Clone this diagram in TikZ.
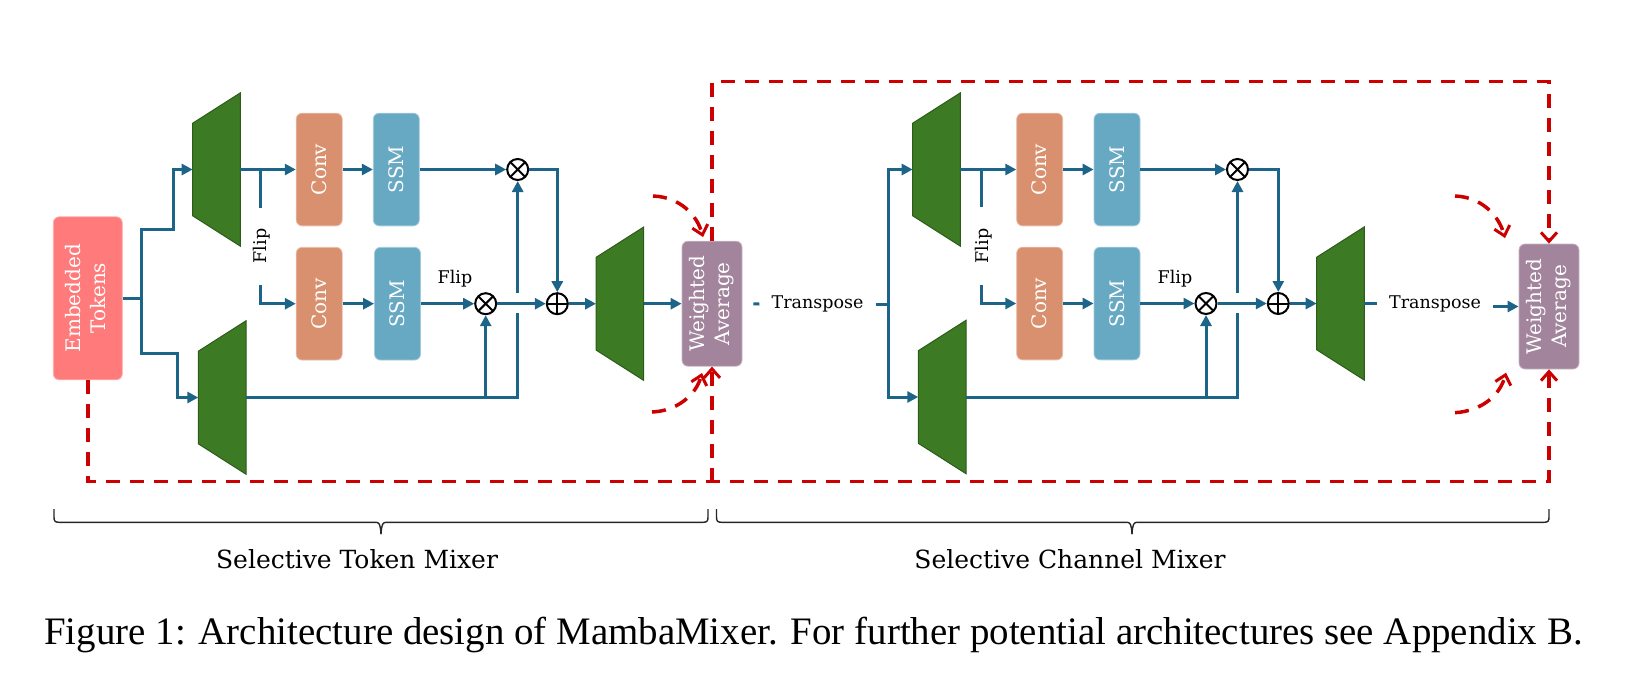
\documentclass[tikz,border=0pt]{standalone}
\usepackage{fontspec}
\setmainfont{DejaVu Serif}
\newfontfamily\capfont{Liberation Serif}
\usepackage{graphicx}
\usetikzlibrary{arrows.meta}

\definecolor{etc}{RGB}{255,122,122}
\definecolor{convc}{RGB}{216,144,111}
\definecolor{ssmc}{RGB}{103,168,195}
\definecolor{wac}{RGB}{162,132,156}
\definecolor{grn}{RGB}{60,122,36}
\definecolor{grnd}{RGB}{45,92,26}
\definecolor{flowc}{RGB}{28,100,136}
\definecolor{resc}{RGB}{204,0,0}

\newcommand\trapz[3]{%
  \draw[trapst] (#2,{#3-46.3}) -- ({#2+47.7},{#3-76.7}) -- ({#2+47.7},{#3+76.7}) -- (#2,{#3+46.3}) -- cycle;
  \coordinate (#1in) at (#2,#3);
  \coordinate (#1out) at ({#2+47.7},#3);}

% under-brace: #1 left x, #2 right x, #3 tip x
\newcommand\ubrace[3]{%
  \draw[bracest] (#1,509) -- (#1,517) .. controls (#1,521) and ({#1+1},522.3) .. ({#1+5},522.3)
    -- ({#3-5},522.3) .. controls ({#3-2},522.3) and ({#3-0.5},524) .. (#3,534.3)
    .. controls ({#3+0.5},524) and ({#3+2},522.3) .. ({#3+5},522.3)
    -- ({#2-5},522.3) .. controls ({#2-1},522.3) and (#2,521) .. (#2,517) -- (#2,509);}

\begin{document}
\begin{tikzpicture}[x=1pt,y=-1pt,
  boxbase/.style={rounded corners=6pt, inner sep=0pt, text=white, font=\fontsize{20}{25}\selectfont, line width=0.8pt},
  etbox/.style={boxbase, fill=etc, draw=etc!60!white, minimum width=69, minimum height=163},
  convbox/.style={boxbase, fill=convc, draw=convc!60!white, minimum width=46, minimum height=112.7},
  ssmbox/.style={boxbase, fill=ssmc, draw=ssmc!60!white, minimum width=46, minimum height=112.7},
  wabox/.style={boxbase, fill=wac, draw=wac!60!white, minimum width=60, minimum height=125},
  trapst/.style={fill=grn, draw=grnd, line width=1pt},
  flowline/.style={draw=flowc, line width=3pt},
  flowarr/.style={flowline, -{Triangle[length=11pt,width=11pt]}},
  resline/.style={draw=resc, line width=3.5pt, dash pattern=on 14pt off 10pt},
  resarr/.style={resline, -{Straight Barb[length=9pt,width=16pt,line width=3pt]}},
  lbl/.style={font=\fontsize{17.5}{20}\selectfont, inner sep=0pt},
  trlbl/.style={lbl, inner xsep=12pt},
  opnode/.style={circle, draw=black, line width=2pt, minimum size=21pt, inner sep=0pt},
  mult/.style={opnode, path picture={\draw[line width=2pt]
      ([shift={(45:12)}]path picture bounding box.center) -- ([shift={(225:12)}]path picture bounding box.center)
      ([shift={(135:12)}]path picture bounding box.center) -- ([shift={(315:12)}]path picture bounding box.center);}},
  plusop/.style={opnode, path picture={\draw[line width=2pt]
      ([xshift=-12pt]path picture bounding box.center) -- ([xshift=12pt]path picture bounding box.center)
      ([yshift=-12pt]path picture bounding box.center) -- ([yshift=12pt]path picture bounding box.center);}},
  bracest/.style={draw=black!85, line width=1.4pt},
  bracelbl/.style={font=\fontsize{25}{30}\selectfont, inner sep=0pt},
  caplbl/.style={font=\capfont\fontsize{38.9}{44}\selectfont, inner sep=0pt}
]
\useasboundingbox (0,0) rectangle (1628,689);

% ---------- boxes that the red paths attach to ----------
\node[etbox] (et) at (87.8,298.3) {\rotatebox{90}{\begin{tabular}{@{}c@{}}Embedded\\Tokens\end{tabular}}};
\node[wabox] (wa1) at (712,303.7) {\rotatebox{90}{\begin{tabular}{@{}c@{}}Weighted\\Average\end{tabular}}};
\node[wabox] (wa2) at (1549,306.5) {\rotatebox{90}{\begin{tabular}{@{}c@{}}Weighted\\Average\end{tabular}}};

% ---------- red residual paths ----------
\coordinate (rb1) at (712,481.7);
\coordinate (rb2) at (1549,481.7);
\coordinate (rt1) at (712,81.7);
\coordinate (rt2) at (1549,81.7);
\draw[resarr] (et.south) |- (rb2) -- (wa2.south);
\draw[resarr] (rb1) -- (wa1.south);
\draw[resarr] (wa1.north) -- (rt1) -- (rt2) -- (wa2.north);

\coordinate (c1s) at (653,196);   \coordinate (c1e) at (703,237);
\coordinate (c2s) at (652,412);   \coordinate (c2e) at (702,373);
\coordinate (c3s) at (1455,196);  \coordinate (c3e) at (1505,238);
\coordinate (c4s) at (1455,412.7);\coordinate (c4e) at (1506,372.7);
\draw[resarr] (c1s) .. controls (680,197) and (697,215) .. (c1e);
\draw[resarr] (c2s) .. controls (677,411) and (696,395) .. (c2e);
\draw[resarr] (c3s) .. controls (1482,197) and (1499,216) .. (c3e);
\draw[resarr] (c4s) .. controls (1482,411) and (1500,395) .. (c4e);

% ---------- block 1 ----------
\trapz{ta}{192.7}{169.5}
\trapz{tb}{198.3}{397.5}
\trapz{tc}{596}{303.7}

\coordinate (j0) at (141.7,298.3);
\coordinate (a1) at (173.3,229.3);
\coordinate (a2) at (177.3,353.3);
\draw[flowline] (et.east) -- (j0);
\draw[flowarr] (j0) |- (a1) |- (tain);
\draw[flowarr] (j0) |- (a2) |- (tbin);

\node[convbox] (conv1) at (319.2,169.5) {\rotatebox{90}{Conv}};
\node[ssmbox] (ssm1) at (396.3,169.5) {\rotatebox{90}{SSM}};
\node[convbox] (conv2) at (319.2,303.7) {\rotatebox{90}{Conv}};
\node[ssmbox] (ssm2) at (397.5,303.7) {\rotatebox{90}{SSM}};
\node[mult] (m1) at (517.7,169.5) {};
\node[mult] (m2) at (485.7,303.7) {};
\node[plusop] (p1) at (557.3,303.7) {};

\draw[flowarr] (taout) -- (conv1.west);
\coordinate (f1a) at (260,169.5);
\coordinate (f1b) at (260,207.7);
\coordinate (f1c) at (260,285);
\node[lbl, rotate=90] (flip1) at (262,246) {Flip};
\draw[flowline] (f1a) -- (f1b);
\draw[flowarr] (f1c) |- (conv2.west);
\draw[flowarr] (conv1.east) -- (ssm1.west);
\draw[flowarr] (conv2.east) -- (ssm2.west);
\draw[flowarr] (ssm1.east) -- (m1.west);
\draw[flowarr] (ssm2.east) -- (m2.west);
\node[lbl] (flip2) at (455,278.5) {Flip};
\draw[flowarr] (m1.east) -| (p1.north);
\draw[flowarr] (m2.east) -- (p1.west);

\coordinate (b1) at (517.7,397.5);
\coordinate (g1lo) at (517.7,313);
\coordinate (g1hi) at (517.7,293);
\draw[flowline] (tbout) -- (b1) -- (g1lo);
\draw[flowarr] (g1hi) -- (m1.south);
\draw[flowarr] (m2.south |- b1) -- (m2.south);

\draw[flowarr] (p1.east) -- (tcin);
\draw[flowarr] (tcout) -- (wa1.west);

% ---------- transpose 1 ----------
\node[trlbl] (tr1) at (817.5,304) {Transpose};
\coordinate (j1) at (888.3,304);
\draw[flowline, shorten <=11pt] (wa1.east) -- (tr1.west);
\draw[flowline] (tr1.east) -- (j1);

% ---------- block 2 ----------
\trapz{td}{912.7}{169.5}
\trapz{te}{918.3}{397}
\trapz{tf}{1316.7}{303.5}

\draw[flowarr] (j1) |- (tdin);
\draw[flowarr] (j1) |- (tein);

\node[convbox] (conv3) at (1039.7,169.5) {\rotatebox{90}{Conv}};
\node[ssmbox] (ssm3) at (1117,169.5) {\rotatebox{90}{SSM}};
\node[convbox] (conv4) at (1039.7,303.5) {\rotatebox{90}{Conv}};
\node[ssmbox] (ssm4) at (1117,303.5) {\rotatebox{90}{SSM}};
\node[mult] (m3) at (1237.5,169.5) {};
\node[mult] (m4) at (1206,303.5) {};
\node[plusop] (p2) at (1278.3,303.5) {};

\draw[flowarr] (tdout) -- (conv3.west);
\coordinate (f2a) at (981.7,169.5);
\coordinate (f2b) at (981.7,207.3);
\coordinate (f2c) at (981.7,285);
\node[lbl, rotate=90] (flip3) at (983.5,246) {Flip};
\draw[flowline] (f2a) -- (f2b);
\draw[flowarr] (f2c) |- (conv4.west);
\draw[flowarr] (conv3.east) -- (ssm3.west);
\draw[flowarr] (conv4.east) -- (ssm4.west);
\draw[flowarr] (ssm3.east) -- (m3.west);
\draw[flowarr] (ssm4.east) -- (m4.west);
\node[lbl] (flip4) at (1175,278.5) {Flip};
\draw[flowarr] (m3.east) -| (p2.north);
\draw[flowarr] (m4.east) -- (p2.west);

\coordinate (b2) at (1237.5,397);
\coordinate (g2lo) at (1237.5,313);
\coordinate (g2hi) at (1237.5,293);
\draw[flowline] (teout) -- (b2) -- (g2lo);
\draw[flowarr] (g2hi) -- (m3.south);
\draw[flowarr] (m4.south |- b2) -- (m4.south);

\draw[flowarr] (p2.east) -- (tfin);

% ---------- transpose 2 ----------
\node[trlbl] (tr2) at (1435,303.5) {Transpose};
\draw[flowline] (tfout) -- (tr2.west);
\draw[flowarr] (tr2.east |- wa2.west) -- (wa2.west);

% ---------- braces and labels ----------
\ubrace{54}{708}{381}
\ubrace{716.5}{1549}{1132}
\node[bracelbl] (lab1) at (357,559) {Selective Token Mixer};
\node[bracelbl] (lab2) at (1070,559) {Selective Channel Mixer};

\node[caplbl] (cap) at (813.5,635) {Figure 1: Architecture design of MambaMixer. For further potential architectures see Appendix B.};
\end{tikzpicture}
\end{document}
